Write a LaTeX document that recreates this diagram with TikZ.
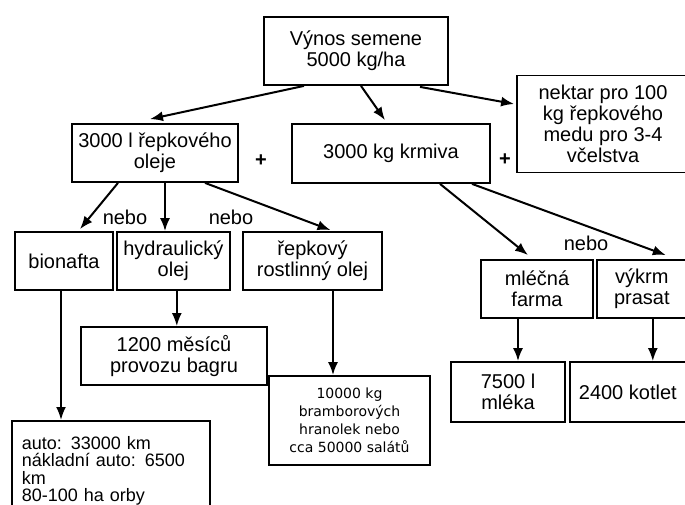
\documentclass[tikz,border=0pt]{standalone}
\usepackage{fontspec}
\setmainfont{Liberation Sans}
\newfontfamily\smallfont{DejaVu Sans}
\usetikzlibrary{arrows.meta, positioning, calc}
\tikzset{
  block/.style = {draw, line width=1.8pt, align=center, inner sep=2pt, font=\fontsize{20}{21}\selectfont},
  arrow/.style = {-{Latex[length=13pt, width=10pt]}, line width=2pt}
}

\begin{document}
\begin{tikzpicture}[
    x=1pt, y=-1pt,
    block/.style={draw, line width=1.8pt, align=center, inner sep=2pt, font=\fontsize{20}{21}\selectfont},
    word/.style={inner sep=0pt, font=\fontsize{20}{21}\selectfont}
  ]
    \useasboundingbox (0,0) rectangle (685,505);

    \node[block, minimum width=184pt, minimum height=68pt] (vynos) at (356,51) {Výnos semene\\5000 kg/ha};
    \node[block, minimum width=172pt, minimum height=97pt] (nektar) at (603,124) {nektar pro 100\\kg řepkového\\medu pro 3-4\\včelstva};

    \node[block, minimum width=166pt, minimum height=58pt] (oleje) at (155,153) {3000 l řepkového\\oleje};
    \node[block, minimum width=198pt, minimum height=59pt] (krmiva) at (391,153.5) {3000 kg krmiva};

    \node[block, minimum width=98pt, minimum height=58pt] (bionafta) at (64,261) {bionafta};
    \node[block, minimum width=113pt, minimum height=58pt, right=2pt of bionafta] (hydraulika) {hydraulický\\olej};
    \node[block, minimum width=139pt, minimum height=58pt] (repkovy) at (312.5,261) {řepkový\\rostlinný olej};

    \node[block, minimum width=186pt, minimum height=58pt] (bagr) at (174,356) {1200 měsíců\\provozu bagru};
    \node[block, minimum width=161pt, minimum height=89pt, font=\smallfont\fontsize{14}{18}\selectfont] (hranolky) at (349.5,420.5) {10000 kg\\bramborových\\hranolek nebo\\cca 50000 salátů};
    \node[block, anchor=north west, align=left, text width=178pt, inner xsep=10pt, inner ysep=2pt, minimum height=100pt, font=\fontsize{18}{17.3}\selectfont] (auto) at (11,420) {auto: 33000 km\\nákladní auto: 6500\\km\\80-100 ha orby};

    \node[block, minimum width=112pt, minimum height=58pt] (farma) at (537,289) {mléčná\\farma};
    \node[block, minimum width=90pt, minimum height=58pt, right=2pt of farma] (vykrm) {výkrm\\prasat};
    \node[block, minimum width=114pt, minimum height=60pt] (mleko) at (508,392) {7500 l\\mléka};
    \node[block, minimum width=116pt, minimum height=60pt, right=3pt of mleko] (kotlety) {2400 kotlet};

    % spojky
    \node[word, font=\bfseries\fontsize{20}{21}\selectfont] (plus1) at (261,161) {+};
    \node[word, font=\bfseries\fontsize{20}{21}\selectfont] (plus2) at (505,160) {+};
    \node[word] (nebo1) at (125,217) {nebo};
    \node[word] (nebo2) at (231,217) {nebo};
    \node[word] (nebo3) at (586,243) {nebo};

    \coordinate (vynos-left)  at ($(vynos.south) + (-52,0)$);
    \coordinate (vynos-mid)   at ($(vynos.south) + (5,0)$);
    \coordinate (vynos-right) at ($(vynos.south) + (64,1)$);
    \coordinate (oleje-left)  at ($(oleje.south) + (-37,0)$);
    \coordinate (oleje-mid)   at ($(oleje.south) + (10,0)$);
    \coordinate (oleje-right) at ($(oleje.south) + (50,0)$);
    \coordinate (krmiva-left)  at ($(krmiva.south) + (49,0)$);
    \coordinate (krmiva-right) at ($(krmiva.south) + (81,0)$);
    \coordinate (bionafta-bot)   at ($(bionafta.south) + (-3,0)$);
    \coordinate (hydraulika-bot) at ($(hydraulika.south) + (3.5,0)$);
    \coordinate (repkovy-bot)    at ($(repkovy.south) + (20.5,0)$);
    \coordinate (farma-bot)      at ($(farma.south) + (-19,0)$);
    \coordinate (vykrm-bot)      at ($(vykrm.south) + (11,0)$);

    \draw[arrow] (vynos-left)  -- ($(oleje.north) + (-5,-4)$);
    \draw[arrow] (vynos-mid)   -- ($(krmiva.north) + (-6,-3)$);
    \draw[arrow] (vynos-right) -- ($(nektar.west) + (-2,-20)$);

    \draw[arrow] (oleje-left)  -- ($(bionafta.north) + (16,-2)$);
    \draw[arrow] (oleje-mid)   -- (oleje-mid |- hydraulika.north);
    \draw[arrow] (oleje-right) -- ($(repkovy.north) + (18,-1)$);

    \draw[arrow] (krmiva-left)  -- ($(farma.north) + (-9,-4)$);
    \draw[arrow] (krmiva-right) -- ($(vykrm.north) + (24,-4)$);

    \draw[arrow] (bionafta-bot)   -- (bionafta-bot |- auto.north);
    \draw[arrow] (hydraulika-bot) -- (hydraulika-bot |- bagr.north);
    \draw[arrow] (repkovy-bot)    -- (repkovy-bot |- hranolky.north);
    \draw[arrow] (farma-bot)      -- (farma-bot |- mleko.north);
    \draw[arrow] (vykrm-bot)      -- (vykrm-bot |- kotlety.north);

  \end{tikzpicture}
\end{document}
